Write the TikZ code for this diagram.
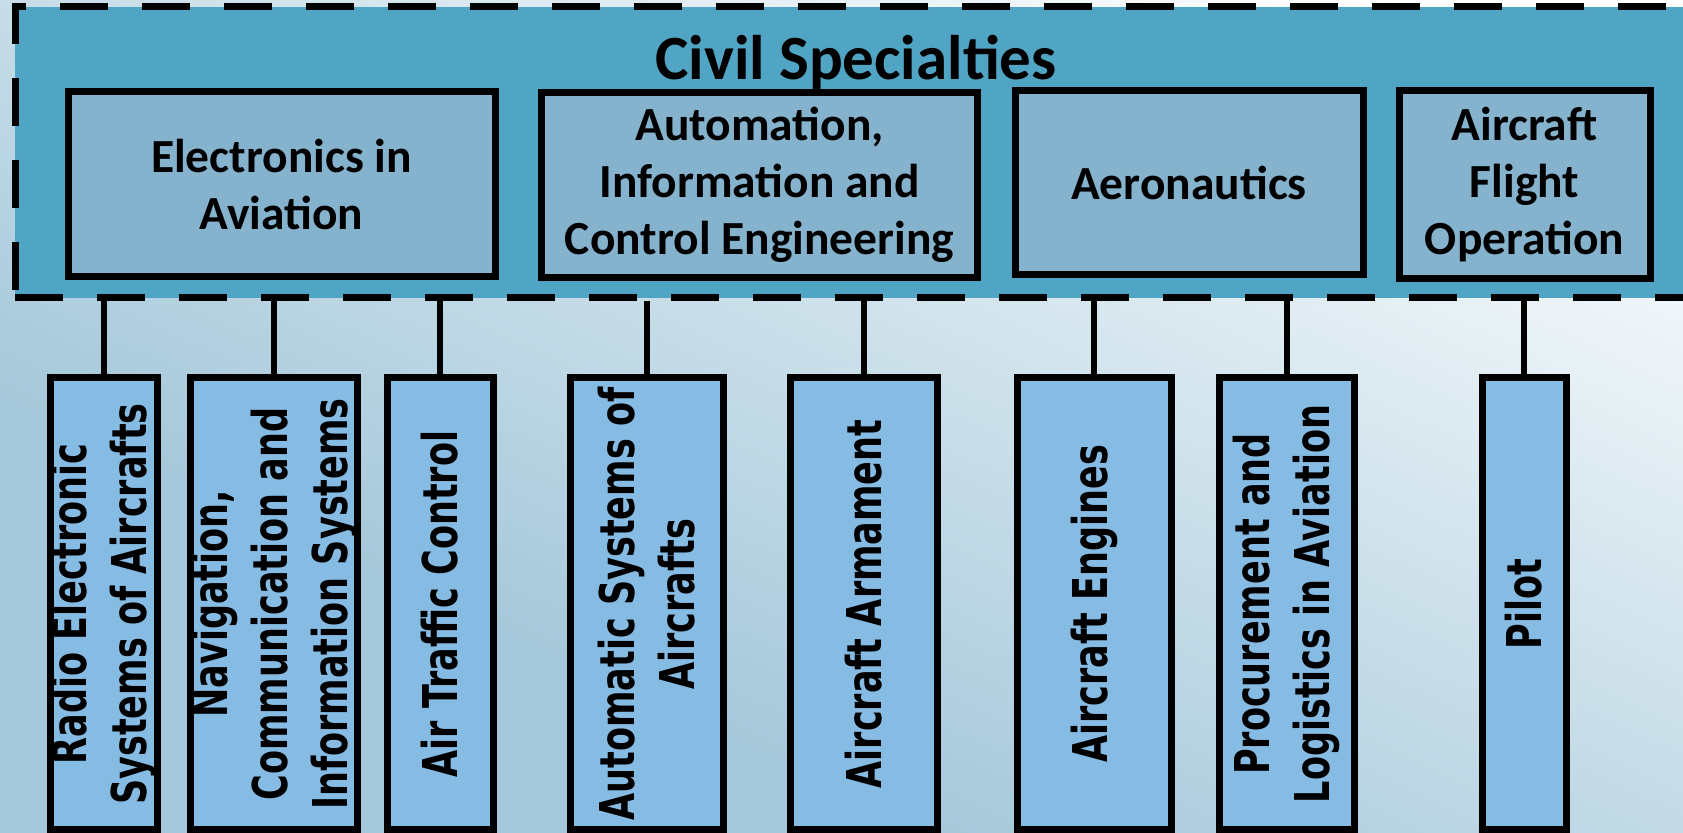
\documentclass[tikz,border=0pt]{standalone}
\usepackage{fontspec}
\setmainfont{Carlito}
\newfontfamily\sidefont{DejaVu Sans}[FakeStretch=0.73]
\usepackage{tikz}

\definecolor{bgblue}{RGB}{165,200,218}
\definecolor{bandblue}{RGB}{80,165,196}
\definecolor{groupfill}{RGB}{133,178,204}
\definecolor{specfill}{RGB}{134,187,228}
\pgfdeclareverticalshading{bgshade}{100bp}{color(0bp)=(bgblue); color(38.5bp)=(bgblue); color(71bp)=(white); color(100bp)=(white)}

\begin{document}
\begin{tikzpicture}
			[x=0.5pt,y=-0.5pt,
			group/.style={draw=black,line width=3.5pt,fill=groupfill,align=center,inner sep=0pt,
				font=\bfseries\fontsize{23.75}{28.5}\selectfont},
			spec/.style={draw=black,line width=3.5pt,fill=specfill,align=center,inner sep=0pt,rotate=90,
				minimum width=226pt,font=\sidefont\bfseries\fontsize{24}{30}\selectfont},
			link/.style={line width=3pt}]
			\useasboundingbox (0,0) rectangle (1683,833);
			\clip (0,0) rectangle (1683,833);
			\begin{scope}[transform canvas={rotate around={-25:(841.5,416.5)}}]
				\shade[shading=bgshade] (-98.5,-316.5) rectangle (1781.5,1149.5);
			\end{scope}
			
			\node[draw=black,fill=bandblue,line width=3.5pt,dash pattern=on 24pt off 17pt,
				minimum width=852.5pt,minimum height=145.5pt] (band) at (867.5,152.5) {};
			\node[font=\bfseries\fontsize{31.5}{36}\selectfont] (civil) at (856,62) {Civil Specialties};
			
			\node[group,minimum width=213.5pt,minimum height=92.5pt] (elec) at (281.5,184.5) {Electronics in\\Aviation};
			\node[group,minimum width=218pt,minimum height=92.5pt] (auto) at (759.5,185) {Automation,\\Information and\\Control Engineering};
			\node[group,minimum width=174pt,minimum height=92pt] (aero) at (1189,183) {Aeronautics};
			\node[group,minimum width=125.5pt,minimum height=94pt] (flight) at (1524.5,185) {Aircraft\\Flight\\Operation};
			
			\node[spec,minimum height=53.5pt] (rad) at (103.5,604) {Radio Electronic\\Systems of Aircrafts};
			\node[spec,minimum height=77pt] (nav) at (274,604) {Navigation,\\Communication and\\Information Systems};
			\node[spec,minimum height=53pt] (atc) at (440,604) {Air Traffic Control};
			\node[spec,minimum height=76.5pt] (aut) at (646.5,604) {Automatic Systems of\\Aircrafts};
			\node[spec,minimum height=73.5pt] (arm) at (863.5,604) {Aircraft Armament};
			\node[spec,minimum height=77pt] (eng) at (1094,604) {Aircraft Engines};
			\node[spec,minimum height=67.5pt] (pro) at (1286.5,604) {Procurement and\\Logistics in Aviation};
			\node[spec,minimum height=42pt] (pil) at (1524,604) {Pilot};
			
			\foreach \n in {rad,nav,atc,aut,arm,eng,pro,pil}
				\draw[link] (\n.east) -- (\n.east |- band.south);
			\end{tikzpicture}
\end{document}
